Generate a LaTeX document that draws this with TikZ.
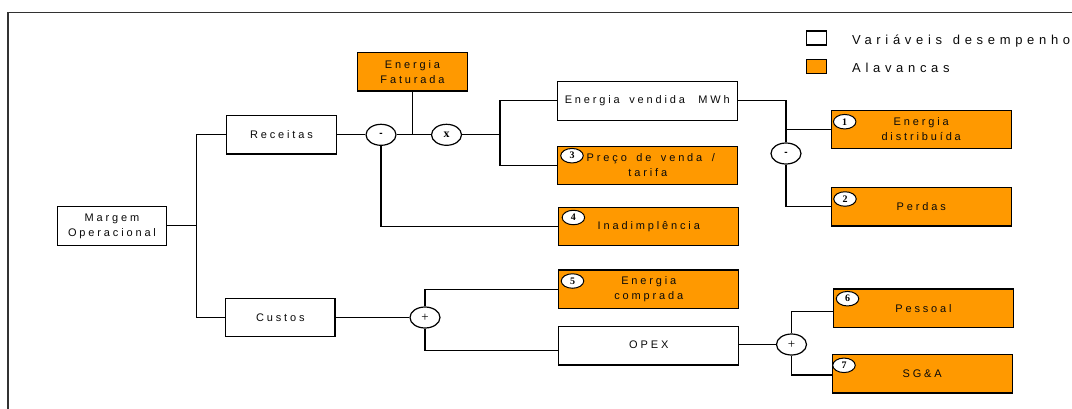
\documentclass[tikz,border=0pt]{standalone}
\usepackage{fontspec}
\usetikzlibrary{shapes.geometric}
\setmainfont{Liberation Sans}
\newfontfamily\boxfont[LetterSpace=26,WordSpace=1.6]{Liberation Sans}
\newfontfamily\legfont[LetterSpace=36,WordSpace=1.3]{Liberation Sans}
\newfontfamily\numfont{Liberation Serif}
\definecolor{lev}{RGB}{255,153,0}
\definecolor{txt}{RGB}{10,10,10}
\definecolor{frm}{RGB}{50,50,50}
\newcommand\boxtxt{\boxfont\fontsize{11}{15}\selectfont}
\newcommand\legtxt{\legfont\fontsize{13}{15}\selectfont}
\begin{document}
\begin{tikzpicture}[x=1pt,y=-1pt,
  conn/.style={line width=1.1pt, draw=black},
  boxbase/.style={draw=black, line width=1.3pt, minimum height=38.5pt, inner sep=0pt, font=\boxtxt, text=txt, align=center},
  smallbox/.style={boxbase, fill=white, minimum width=109.5pt},
  widebox/.style={boxbase, fill=white, minimum width=180pt},
  levsmall/.style={boxbase, fill=lev, minimum width=110pt},
  levbox/.style={boxbase, fill=lev, minimum width=180pt},
  opc/.style={ellipse, draw=black, line width=1.2pt, fill=white, minimum width=30pt, minimum height=21pt, inner sep=0pt},
  numc/.style={ellipse, draw=black, line width=1pt, fill=white, minimum width=22.5pt, minimum height=14.5pt, inner sep=0pt, font=\numfont\bfseries\fontsize{10}{10}\selectfont},
  legsq/.style={draw=black, line width=1.2pt, minimum width=20pt, minimum height=14pt, inner sep=0pt}
]
\useasboundingbox (0,0) rectangle (1072,408);
\fill[white] (0,0) rectangle (1072,408);
% frame
\draw[line width=1.4pt, draw=frm] (8,420) -- (8,12.7) -- (1080,12.7);

% legend
\node[legsq, fill=white] (lw) at (816.5,38) {};
\node[legsq, fill=lev] (lo) at (816.5,66.5) {};
\node[anchor=base west, inner sep=0pt, font=\legtxt, text=txt] (lt1) at (852,44) {Variáveis desempenho};
\node[anchor=base west, inner sep=0pt, font=\legtxt, text=txt] (lt2) at (852,72.5) {Alavancas};

% boxes
\node[smallbox] (mar) at (112,225.9) {Margem\\Operacional};
\node[smallbox] (rec) at (281.5,134.8) {Receitas};
\node[smallbox] (cus) at (280.3,317.5) {Custos};
\node[levsmall] (fat) at (412.5,71.7) {Energia\\Faturada};
\node[widebox] (env) at (647.3,100.9) {Energia vendida\hspace{4pt} MWh};
\node[levbox] (pre) at (647.8,165.5) {\hspace*{6pt}Preço de venda /\\tarifa};
\node[levbox] (ina) at (648.8,226.5) {Inadimplência};
\node[levbox] (ecp) at (648.8,289.3) {Energia\\comprada};
\node[widebox] (opx) at (648.8,345.8) {\raisebox{2pt}{OPEX}};
\node[levbox] (edi) at (921.2,129.5) {Energia\\distribuída};
\node[levbox] (per) at (921.2,206.7) {Perdas};
\node[levbox] (pes) at (923.5,308.2) {Pessoal};
\node[levbox] (sga) at (922.2,373.8) {SG\&A};

% operators
\node[opc] (m1) at (381,134.8) {\bfseries -};
\node[opc] (x1) at (446.5,134.8) {\numfont\bfseries\fontsize{12}{12}\selectfont x};
\node[opc] (m2) at (786,153.5) {\bfseries -};
\node[opc] (p1) at (425,317.5) {\numfont\fontsize{13}{13}\selectfont +};
\node[opc] (p2) at (791.5,344.5) {\numfont\fontsize{13}{13}\selectfont +};

% helper coordinates
\coordinate (tr) at (196.6,0);
\coordinate (br) at (500,0);
\coordinate (opxL) at ([yshift=-4.5pt]opx.west);
\coordinate (opxR) at ([yshift=1.3pt]opx.east);
\coordinate (pesL) at ([yshift=-3.3pt]pes.west);
\coordinate (sgaL) at ([yshift=-1.2pt]sga.west);

% connectors
\draw[conn] (mar.east) -- (mar.east -| tr);
\draw[conn] (rec.west) -- (rec.west -| tr) -- (cus.west -| tr) -- (cus.west);
\draw[conn] (rec.east) -- (m1.west);
\draw[conn] (m1.east) -- (x1.west);
\draw[conn] (fat.south) -- (fat.south |- m1.center);
\draw[conn] (x1.east) -- (x1.east -| br);
\draw[conn] (env.west) -- (env.west -| br) -- (pre.west -| br) -- (pre.west);
\draw[conn] (m1.south) -- (m1.south |- ina.west) -- (ina.west);
\draw[conn] (env.east) -- (env.east -| m2.north) -- (m2.north);
\draw[conn] (edi.west) -- (edi.west -| m2.north);
\draw[conn] (m2.south) -- (m2.south |- per.west) -- (per.west);
\draw[conn] (cus.east) -- (p1.west);
\draw[conn] (ecp.west) -- (ecp.west -| p1.north) -- (p1.north);
\draw[conn] (p1.south) -- (p1.south |- opxL) -- (opxL);
\draw[conn] (opxR) -- (p2.west);
\draw[conn] (pesL) -- (pesL -| p2.north) -- (p2.north);
\draw[conn] (p2.south) -- (p2.south |- sgaL) -- (sgaL);

% numbered markers
\node[numc] (n1) at (844.7,121.7) {1};
\node[numc] (n2) at (845,199) {2};
\node[numc] (n3) at (572,155.7) {3};
\node[numc] (n4) at (573.4,217.5) {4};
\node[numc] (n5) at (572.5,281) {5};
\node[numc] (n6) at (847.5,298.7) {6};
\node[numc] (n7) at (844,365.3) {7};
\end{tikzpicture}
\end{document}
